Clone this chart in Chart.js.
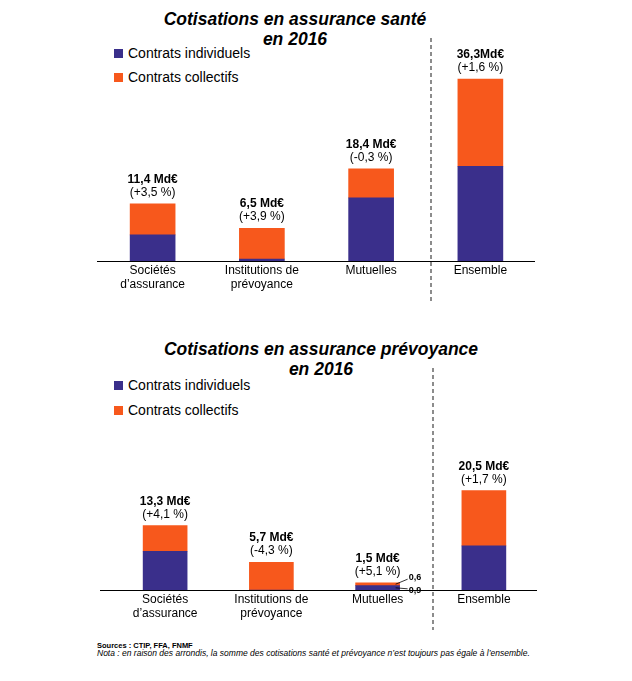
<!DOCTYPE html>
<html>
<head>
<meta charset="utf-8">
<script src="https://cdn.jsdelivr.net/npm/chart.js@4.4.0/dist/chart.umd.min.js"></script>
<style>
  body { margin: 0; background: #fff; font-family: "Liberation Sans", Arial, sans-serif; }
  #page { position: relative; width: 632px; height: 681px; overflow: hidden; }
  canvas { position: absolute; left: 0; }
  .title { position: absolute; width: 400px; text-align: center; font-weight: bold; font-style: italic; font-size: 17.5px; line-height: 20px; color: #000; }
  .leg { position: absolute; left: 114px; height: 16px; line-height: 16px; font-size: 14px; color: #000; white-space: nowrap; }
  .leg i { display: inline-block; width: 9px; height: 9px; margin-right: 5px; }
  .src { position: absolute; left: 97px; line-height: 9px; color: #000; white-space: nowrap; }
</style>
</head>
<body>
<div id="page">
  <div class="title" style="left:95px; top:9px;">Cotisations en assurance santé<br>en 2016</div>
  <div class="leg" style="top:45px;"><i style="background:#3a2f8b"></i>Contrats individuels</div>
  <div class="leg" style="top:69px;"><i style="background:#f7581c"></i>Contrats collectifs</div>
  <canvas id="sante" width="632" height="301" style="top:0px;"></canvas>

  <div class="title" style="left:121px; top:339px;">Cotisations en assurance prévoyance<br>en 2016</div>
  <div class="leg" style="top:377px;"><i style="background:#3a2f8b"></i>Contrats individuels</div>
  <div class="leg" style="top:402px;"><i style="background:#f7581c"></i>Contrats collectifs</div>
  <canvas id="prev" width="632" height="300" style="top:330px;"></canvas>

  <div class="src" style="top:641px; font-size:7.5px; font-weight:bold;">Sources : CTIP, FFA, FNMF</div>
  <div class="src" style="top:649px; font-size:8.5px; font-style:italic;">Nota : en raison des arrondis, la somme des cotisations santé et prévoyance n’est toujours pas égale à l’ensemble.</div>
</div>

<script>
// -------------------- DATA --------------------
const categories = [["Sociétés", "d’assurance"], ["Institutions de", "prévoyance"], ["Mutuelles"], ["Ensemble"]];

const santeIndividuels = [5.2, 0.4, 12.6, 18.9];
const santeCollectifs = [6.2, 6.1, 5.8, 17.4];
const santeTotals = ["11,4 Md€", "6,5 Md€", "18,4 Md€", "36,3Md€"];
const santeChanges = ["(+3,5 %)", "(+3,9 %)", "(-0,3 %)", "(+1,6 %)"];

const prevIndividuels = [8.0, 0, 0.9, 9.1];
const prevCollectifs = [5.3, 5.7, 0.6, 11.4];
const prevTotals = ["13,3 Md€", "5,7 Md€", "1,5 Md€", "20,5 Md€"];
const prevChanges = ["(+4,1 %)", "(-4,3 %)", "(+5,1 %)", "(+1,7 %)"];

const BLUE = "#3a2f8b";
const ORANGE = "#f7581c";
const FONT = '"Liberation Sans", Arial, sans-serif';

// -------------------- PLUGIN --------------------
// baseline, dashed separator, value labels above the bars
const annotate = {
  id: "annotate",
  afterDatasetsDraw(chart, args, opts) {
    const ctx = chart.ctx;
    const area = chart.chartArea;
    const ind = chart.getDatasetMeta(0).data;
    const col = chart.getDatasetMeta(1).data;

    ctx.save();
    ctx.strokeStyle = "#000";
    ctx.lineWidth = 1;
    ctx.beginPath();
    ctx.moveTo(opts.lineFrom, area.bottom + 0.5);
    ctx.lineTo(area.right, area.bottom + 0.5);
    ctx.stroke();

    let sx = Math.round(chart.scales.x.getPixelForValue(opts.sepAt));
    ctx.strokeStyle = "#8c8c8c";
    ctx.lineWidth = 2;
    ctx.setLineDash([4, 3]);
    ctx.beginPath();
    ctx.moveTo(sx, area.top - 2);
    ctx.lineTo(sx, chart.height);
    ctx.stroke();
    ctx.setLineDash([]);

    ctx.fillStyle = "#000";
    ctx.textAlign = "center";
    col.forEach((bar, i) => {
      ctx.font = "bold 12px " + FONT;
      ctx.fillText(opts.totals[i], bar.x, bar.y - 21);
      ctx.font = "12px " + FONT;
      ctx.fillText(opts.changes[i], bar.x, bar.y - 8);
    });

    // tiny segment labels next to a small bar
    if (opts.small !== undefined) {
      let k = opts.small;
      let c = col[k], b = ind[k];
      let right = c.x + c.width / 2;
      let cy = (c.y + c.base) / 2;
      let by = (b.y + b.base) / 2;
      ctx.strokeStyle = "#000";
      ctx.lineWidth = 0.8;
      ctx.beginPath();
      ctx.moveTo(right - 4, cy);
      ctx.lineTo(right + 8, cy - 5);
      ctx.moveTo(right - 4, by);
      ctx.lineTo(right + 8, by + 1);
      ctx.stroke();
      ctx.font = "bold 9px " + FONT;
      ctx.textAlign = "left";
      ctx.fillText(prevCollectifs[k].toFixed(1).replace(".", ","), right + 9, cy - 4);
      ctx.fillText(prevIndividuels[k].toFixed(1).replace(".", ","), right + 9, by + 5);
    }
    ctx.restore();
  }
};

// -------------------- CHARTS --------------------
function makeChart(id, individuels, collectifs, yMax, pad, thick, labelOpts) {
  return new Chart(document.getElementById(id), {
    type: "bar",
    data: {
      labels: categories,
      datasets: [
        { label: "Contrats individuels", data: individuels, backgroundColor: BLUE, barThickness: thick, borderWidth: 0 },
        { label: "Contrats collectifs", data: collectifs, backgroundColor: ORANGE, barThickness: thick, borderWidth: 0 }
      ]
    },
    options: {
      responsive: false,
      animation: false,
      devicePixelRatio: 1,
      layout: { padding: pad },
      plugins: {
        legend: { display: false },
        tooltip: { enabled: false },
        annotate: labelOpts
      },
      scales: {
        x: {
          stacked: true,
          grid: { display: false, drawTicks: false },
          border: { display: false },
          ticks: {
            color: "#000",
            padding: 3,
            maxRotation: 0,
            autoSkip: false,
            font: { family: FONT, size: 12, lineHeight: 1.17 }
          },
          afterFit(s) { s.height = 40; }
        },
        y: { stacked: true, display: false, min: 0, max: yMax }
      }
    },
    plugins: [annotate]
  });
}

makeChart("sante", santeIndividuels, santeCollectifs, 44.1,
  { left: 98, right: 97, top: 40, bottom: 0 }, 45,
  { totals: santeTotals, changes: santeChanges, lineFrom: 97, sepAt: 2.55 });

makeChart("prev", prevIndividuels, prevCollectifs, 45.4,
  { left: 112, right: 95, top: 40, bottom: 0 }, 44,
  { totals: prevTotals, changes: prevChanges, lineFrom: 100, sepAt: 2.52, small: 2 });
</script>
</body>
</html>
